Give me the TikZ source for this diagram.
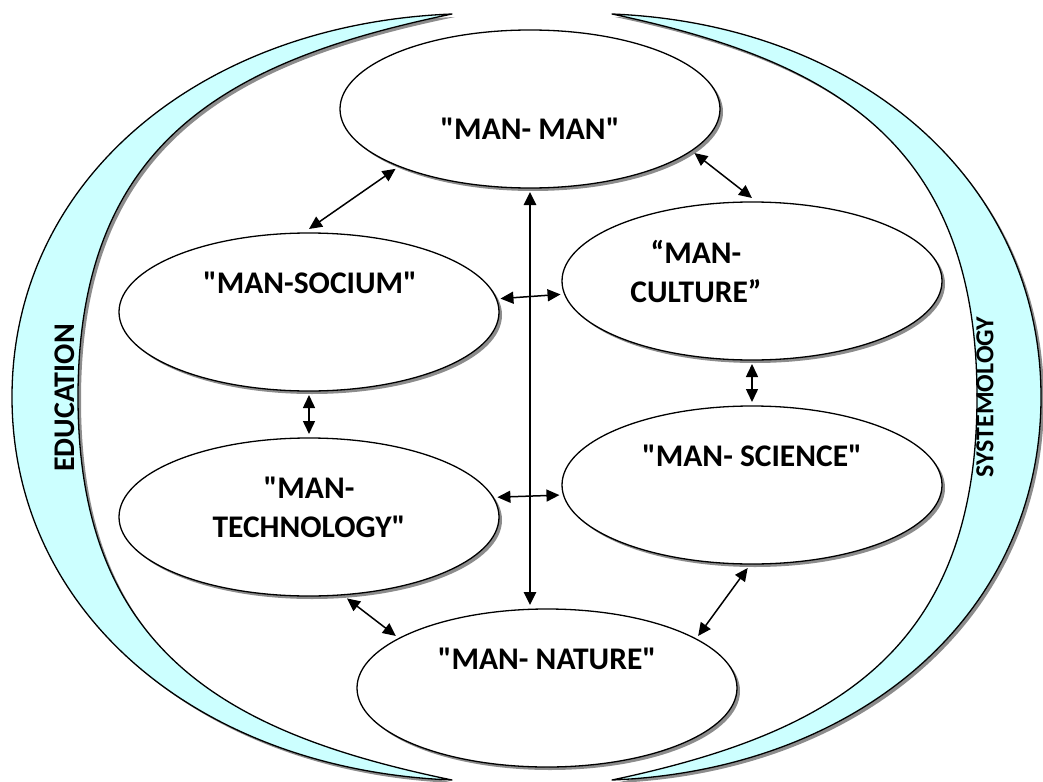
\documentclass[tikz,border=0pt]{standalone}
\usepackage{fontspec}
\setmainfont{Carlito}[Ligatures=TeXOff]
\usetikzlibrary{shapes.geometric,shadows,arrows.meta}
\definecolor{bandcyan}{HTML}{CCFFFF}
\begin{document}
\begin{tikzpicture}[x=1pt,y=-1pt,line join=round,
  font=\bfseries\fontsize{31.5}{39}\selectfont,
  oval/.style={ellipse,draw,line width=1.3pt,fill=white,minimum width=380pt,minimum height=158pt,
    inner sep=0pt,outer sep=4pt,drop shadow={shadow xshift=3pt,shadow yshift=-3pt,fill=black!45,opacity=1}},
  band/.style={draw,line width=1.3pt,fill=bandcyan,drop shadow={shadow xshift=3pt,shadow yshift=-3pt,fill=black!45,opacity=1}},
  link/.style={{Triangle[length=13pt,width=12pt]}-{Triangle[length=13pt,width=12pt]},line width=1.5pt}]
\useasboundingbox (0,0) rectangle (1043,781);
% the two side bands
\path[band] (452,14) .. controls (200,24) and (12,180) .. (12,397)
  .. controls (12,614) and (200,770) .. (452,780)
  .. controls (230,734) and (78,654) .. (78,397)
  .. controls (78,140) and (230,60) .. (452,14) -- cycle;
\path[band] (612,14) .. controls (859,24) and (1041,180) .. (1041,397)
  .. controls (1041,614) and (859,770) .. (612,780)
  .. controls (829,734) and (977,654) .. (977,397)
  .. controls (977,140) and (829,60) .. (612,14) -- cycle;
\node[rotate=90,font=\bfseries\fontsize{30}{36}\selectfont] (educ) at (65,398) {EDUCATION};
\node[rotate=90,font=\bfseries\fontsize{26}{30}\selectfont] (syst) at (985,397) {SYSTEMOLOGY};
% ellipses
\node[oval] (manman) at (530,109) {};
\node[oval] (socium) at (309,312) {};
\node[oval] (culture) at (752,281) {};
\node[oval] (technology) at (309,517) {};
\node[oval] (science) at (752,485) {};
\node[oval] (nature) at (547,688) {};
\node (manmantxt) at (530,129) {"MAN- MAN"};
\node (sociumtxt) at (310,283) {"MAN-SOCIUM"};
\node[align=center] (culturetxt) at (696,271) {“MAN-\\CULTURE”};
\node[align=center] (technologytxt) at (309,507) {"MAN-\\TECHNOLOGY"};
\node (sciencetxt) at (752,456) {"MAN- SCIENCE"};
\node (naturetxt) at (547,659) {"MAN- NATURE"};
% links
\draw[link] (manman.204) -- (socium.north);
\draw[link] (manman.345) -- (culture.north);
\draw[link,line width=2.6pt] (manman.south) -- (manman.south |- nature.north);
\draw[link] (socium.4.5) -- (culture.184.8);
\draw[link] (technology.6.1) -- (science.183.6);
\draw[link] (socium.south) -- (technology.north);
\draw[link] (culture.south) -- (science.north);
\draw[link] (technology.295) -- (nature.161);
\draw[link] (science.267) -- (nature.19.3);
\end{tikzpicture}
\end{document}
